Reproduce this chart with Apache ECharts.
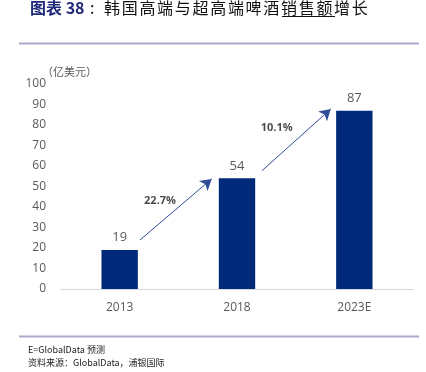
<!DOCTYPE html>
<html><head><meta charset="utf-8">
<script src="https://cdn.jsdelivr.net/npm/echarts@6/dist/echarts.min.js"></script>
<style>html,body{margin:0;padding:0;background:#fff}#c{width:426px;height:372px}</style>
</head><body><div id="c"></div>
<script>
var categories = ['2013', '2018', '2023E'];
var salesValues = [19, 54, 87];
var yTicks = [0, 10, 20, 30, 40, 50, 60, 70, 80, 90, 100];
var growthLabels = ['22.7%', '10.1%'];
// arrows: [startX, startY, endX, endY] in data space (x = category index)
var arrow1 = [0.173, 23.9, 0.784, 53.7];
var arrow2 = [1.213, 57.7, 1.799, 87.8];
var labelPos = [[0.344, 42.9], [1.338, 78.4]];
var titleLead = '图表 38';
var titleText = '韩国高端与超高端啤酒销售额增长';

var chart = echarts.init(document.getElementById('c'));
var numFont = '"Open Sans", "Noto Sans", sans-serif';
var cjk = '"Noto Sans CJK SC", sans-serif';
var arrowColor = '#2e4c98';

var graphics = [
  {type: 'text', left: 30, top: 0, style: {text: titleLead, fill: '#1f2a7a', fontSize: 16, fontWeight: 'bold', fontFamily: cjk}},
  {type: 'text', left: 90, top: 0, style: {text: ':', fill: '#111', fontSize: 16, fontFamily: cjk}},
  {type: 'line', shape: {x1: 282, y1: 16.5, x2: 335, y2: 16.5}, style: {stroke: '#111', lineWidth: 1}},
  {type: 'line', shape: {x1: 19, y1: 43.5, x2: 419, y2: 43.5}, style: {stroke: '#a9a9cb', lineWidth: 2}},
  {type: 'line', shape: {x1: 19, y1: 336.5, x2: 419, y2: 336.5}, style: {stroke: '#a9a9cb', lineWidth: 2}},
  {type: 'text', left: 42, top: 66, style: {text: '（亿美元）', fill: '#595959', fontSize: 11, fontFamily: cjk}},
  {type: 'text', left: 28, top: 345, style: {text: 'E=GlobalData 预测', fill: '#222', fontSize: 9, fontFamily: cjk}},
  {type: 'text', left: 28, top: 358, style: {text: '资料来源：GlobalData，浦银国际', fill: '#222', fontSize: 9, fontFamily: cjk}}
];
for (var i = 0; i < titleText.length; i++) {
  graphics.push({type: 'text', left: 104 + i * 17.7, top: 0, style: {text: titleText[i], fill: '#111', fontSize: 16, fontFamily: cjk}});
}

chart.setOption({
  animation: false,
  grid: {left: 61, right: 13, top: 84, bottom: 83},
  xAxis: [{
    type: 'category', data: categories,
    axisLine: {lineStyle: {color: '#d9d9d9', width: 1}},
    axisTick: {show: false},
    axisLabel: {color: '#595959', fontSize: 12, margin: 13, fontFamily: numFont}
  }, {
    type: 'value', min: -0.5, max: 2.5, show: false
  }],
  yAxis: {
    type: 'value', min: yTicks[0], max: yTicks[yTicks.length - 1], interval: 10,
    axisLine: {show: false}, axisTick: {show: false},
    splitLine: {show: false},
    axisLabel: {color: '#595959', fontSize: 12, margin: 15, fontFamily: numFont}
  },
  series: [{
    type: 'bar', data: salesValues, barWidth: '31%',
    itemStyle: {color: '#00297a'},
    label: {show: true, position: 'top', distance: 6, color: '#595959', fontSize: 13, fontFamily: numFont}
  }, {
    type: 'scatter', xAxisIndex: 1, symbolSize: 0, data: labelPos.map(function (p, i) { return {value: p, name: growthLabels[i]}; }),
    label: {show: true, position: 'inside', formatter: '{b}', color: '#1a1a1a', fontWeight: 'bold', fontSize: 11, fontFamily: numFont},
    silent: true,
    markLine: {
      silent: true, symbol: ['none', 'arrow'], symbolSize: [10, 11],
      lineStyle: {color: arrowColor, width: 1, type: 'solid'},
      label: {show: false},
      data: [
        [{coord: [arrow1[0], arrow1[1]]}, {coord: [arrow1[2], arrow1[3]]}],
        [{coord: [arrow2[0], arrow2[1]]}, {coord: [arrow2[2], arrow2[3]]}]
      ]
    }
  }],
  graphic: graphics
});
</script></body></html>
